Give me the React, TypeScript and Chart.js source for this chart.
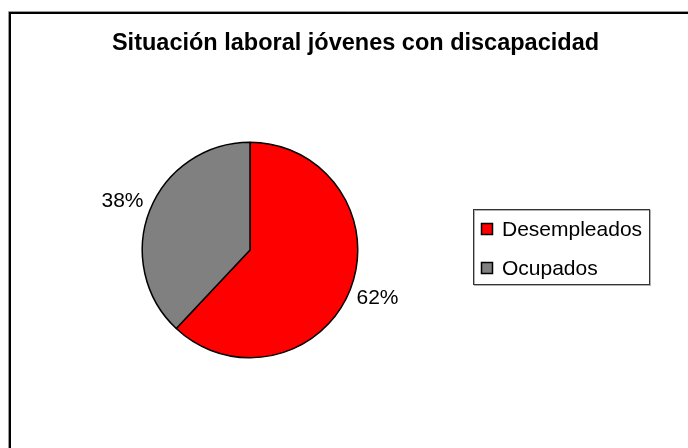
import React, { useEffect, useRef } from "react";
import { Chart, registerables } from "chart.js";

Chart.register(...registerables);

const titleText = "Situación laboral jóvenes con discapacidad";
const categories = ["Desempleados", "Ocupados"];
const values = [62, 38];
const sliceColors = ["#FF0000", "#808080"];
const pctLabels = ["62%", "38%"];

const FONT = '"Liberation Sans", Arial, sans-serif';

const decorPlugin = {
  id: "decor",
  beforeDraw(chart: any) {
    const ctx = chart.ctx;
    ctx.save();
    ctx.fillStyle = "#ffffff";
    ctx.fillRect(0, 0, chart.width, chart.height);
    // outer frame
    ctx.strokeStyle = "#9a9a9a";
    ctx.lineWidth = 1;
    ctx.beginPath();
    ctx.moveTo(8.5, chart.height + 5);
    ctx.lineTo(8.5, 11.5);
    ctx.lineTo(chart.width + 5, 11.5);
    ctx.stroke();
    ctx.strokeStyle = "#000000";
    ctx.lineWidth = 2;
    ctx.beginPath();
    ctx.moveTo(10, chart.height + 5);
    ctx.lineTo(10, 13);
    ctx.lineTo(chart.width + 5, 13);
    ctx.stroke();
    ctx.restore();
  },
  afterDraw(chart: any) {
    const ctx = chart.ctx;
    ctx.save();
    // title
    ctx.fillStyle = "#000";
    ctx.font = `bold 23.5px ${FONT}`;
    ctx.textAlign = "center";
    ctx.textBaseline = "alphabetic";
    ctx.fillText(titleText, 355.5, 50);

    // percentage labels outside slices
    const meta = chart.getDatasetMeta(0);
    ctx.font = `21px ${FONT}`;
    meta.data.forEach((arc: any, i: number) => {
      const { x, y, startAngle, endAngle, outerRadius } = arc.getProps(
        ["x", "y", "startAngle", "endAngle", "outerRadius"],
        true
      );
      const mid = (startAngle + endAngle) / 2;
      const r = outerRadius + 24;
      const lx = x + Math.cos(mid) * r;
      const ly = y + Math.sin(mid) * r;
      const right = Math.cos(mid) >= 0;
      ctx.textAlign = right ? "left" : "right";
      ctx.textBaseline = "middle";
      const tx = right ? lx - 16 : lx + 16;
      ctx.fillText(pctLabels[i], tx, ly);
    });

    // legend box
    const bx = 473.5, by = 209.5, bw = 176, bh = 75;
    ctx.strokeStyle = "#b0b0b0";
    ctx.lineWidth = 1;
    ctx.strokeRect(bx + 1, by + 1, bw, bh);
    ctx.strokeStyle = "#333";
    ctx.strokeRect(bx, by, bw, bh);
    const rows = [229, 268];
    categories.forEach((c, i) => {
      ctx.fillStyle = sliceColors[i];
      ctx.fillRect(481, rows[i] - 6, 12, 12);
      ctx.strokeStyle = "#000";
      ctx.lineWidth = 1.5;
      ctx.strokeRect(481.5, rows[i] - 5.5, 11, 11);
      ctx.fillStyle = "#000";
      ctx.font = `21px ${FONT}`;
      ctx.textAlign = "left";
      ctx.textBaseline = "middle";
      ctx.fillText(c, 502, rows[i] + 1);
    });
    ctx.restore();
  },
};

export default function App() {
  const ref = useRef<HTMLCanvasElement | null>(null);
  useEffect(() => {
    if (!ref.current) return;
    const chart = new Chart(ref.current, {
      type: "pie",
      data: {
        labels: categories,
        datasets: [
          {
            data: values,
            backgroundColor: sliceColors,
            borderColor: "#000000",
            borderWidth: 1.5,
          },
        ],
      },
      options: {
        responsive: false,
        animation: false,
        layout: { padding: { left: 141.5, top: 141.5, right: 329.5, bottom: 89.5 } },
        plugins: {
          legend: { display: false },
          title: { display: false },
          tooltip: { enabled: false },
        },
      },
      plugins: [decorPlugin],
    });
    return () => chart.destroy();
  }, []);
  return (
    <div style={{ position: "absolute", left: 0, top: 0, width: 688, height: 448, background: "#fff" }}>
      <canvas ref={ref} width={688} height={448} style={{ width: 688, height: 448, display: "block" }} />
    </div>
  );
}
